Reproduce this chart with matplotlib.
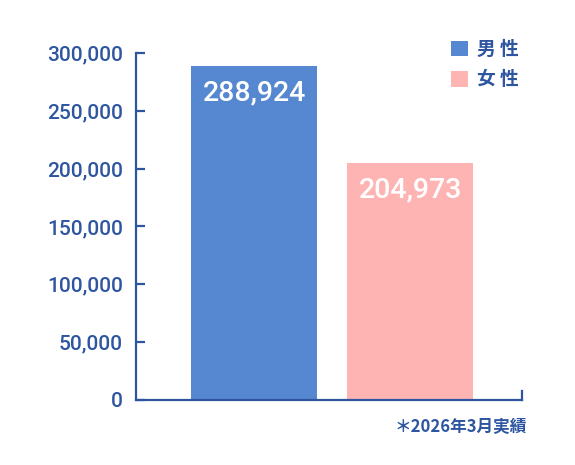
import matplotlib
matplotlib.use("Agg")
import matplotlib.pyplot as plt
from matplotlib.patches import Patch
from matplotlib.ticker import FuncFormatter

categories = ["男 性", "女 性"]
values = [288924, 204973]
colors = ["#5588D0", "#FFB4B4"]
yticks = [0, 50000, 100000, 150000, 200000, 250000, 300000]
note = "＊2026年3月実績"

TEXT = "#2D55A0"
W, H = 575, 465
fig = plt.figure(figsize=(W / 100, H / 100), dpi=100)
left, right, bottom, top = 135.5, 521.7, 399.5, 53.3
ax = fig.add_axes([left / W, (H - bottom) / H, (right - left) / W, (bottom - top) / H])

xs = list(range(len(values)))
width = 0.81
ax.bar(xs, values, width=width, color=colors, zorder=2)
ax.set_xlim(-0.765, 1.718)
ax.set_ylim(0, 300000)

ax.spines["top"].set_visible(False)
for s in ["left", "bottom", "right"]:
    ax.spines[s].set_color(TEXT)
    ax.spines[s].set_linewidth(1.6)
ax.spines["right"].set_bounds(0, 7000)
ax.set_xticks([])
ax.set_yticks(yticks)
ax.yaxis.set_major_formatter(FuncFormatter(lambda v, p: f"{int(v):,}"))
ax.tick_params(axis="y", direction="in", length=6.5, width=1.6, color=TEXT,
               pad=9, labelcolor=TEXT, labelsize=15)
for lab in ax.get_yticklabels():
    lab.set_fontfamily("Roboto")
    lab.set_fontweight("medium")

for x, v in zip(xs, values):
    ax.annotate(f"{v:,}", xy=(x - width / 2, v), xytext=(8.4, -25),
                textcoords="offset points", ha="left", va="baseline",
                color="white", fontsize=20.5, fontfamily="Roboto", fontweight="medium")

handles = [Patch(facecolor=c, edgecolor="none") for c in colors]
leg = fig.legend(handles, categories, loc="upper right",
                 bbox_to_anchor=(519 / W, (H - 40) / H), frameon=False,
                 borderpad=0, borderaxespad=0, handlelength=0.92, handleheight=0.92,
                 handletextpad=0.5, labelspacing=0.6,
                 prop={"family": ["Noto Sans CJK JP", "DejaVu Sans"], "weight": "bold", "size": 13.5})
for t in leg.get_texts():
    t.set_color(TEXT)

fig.text(527 / W, (H - 426.5) / H, note, ha="right", va="center", color=TEXT,
         fontsize=12, fontweight="bold", fontfamily=["Noto Sans CJK JP", "DejaVu Sans"])

fig.savefig("out.png", dpi=100, facecolor="white")
